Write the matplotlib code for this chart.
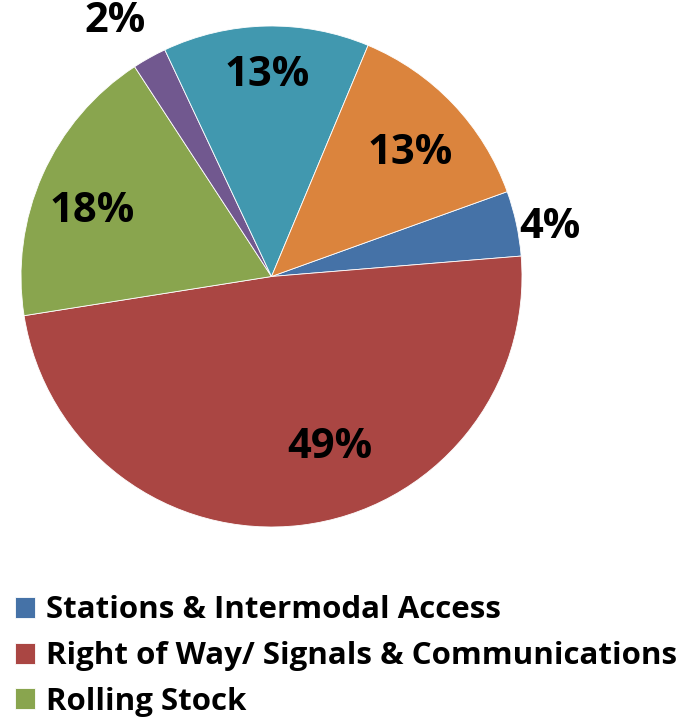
import matplotlib.pyplot as plt

# chart data
categories = ["Stations & Intermodal Access",
              "Right of Way/ Signals & Communications",
              "Rolling Stock"]
shares = [4.2, 48.8, 18.3, 2.2, 13.3, 13.2]
colors = ["#4572A7", "#AA4643", "#89A54E", "#71588F", "#4198AF", "#DB843D"]

# label centres in pixels (x, y from top)
label_pos = [(550, 228), (330, 448), (92, 212), (115, 22), (267, 75), (410, 153)]

W, H = 699, 719
plt.rcParams["font.family"] = ["Open Sans", "DejaVu Sans"]

fig = plt.figure(figsize=(W / 100, H / 100), dpi=100)
ax = fig.add_axes([0, 0, 1, 1])

wedges, texts, autotexts = ax.pie(shares, colors=colors, startangle=19.8, counterclock=False,
                                  center=(271.5, H - 276.5), radius=250.5, autopct="%.0f%%",
                                  wedgeprops=dict(edgecolor="white", linewidth=0.6),
                                  textprops=dict(fontsize=30, fontweight="bold", color="black"),
                                  frame=True)
ax.set_xlim(0, W)
ax.set_ylim(0, H)
ax.set_aspect("equal")
ax.axis("off")

for t, (x, y) in zip(autotexts, label_pos):
    t.set_position((x, H - y))
    t.set_ha("center")
    t.set_va("center")

leg = ax.legend(wedges[:3], categories, loc="upper left", bbox_to_anchor=(2 / W, 1 - 583 / H),
                frameon=False, prop=dict(size=22.5, weight="bold"), handlelength=0.65,
                handleheight=0.65, handletextpad=0.35, labelspacing=0.5, borderaxespad=0)

fig.savefig("out.png", dpi=100)
